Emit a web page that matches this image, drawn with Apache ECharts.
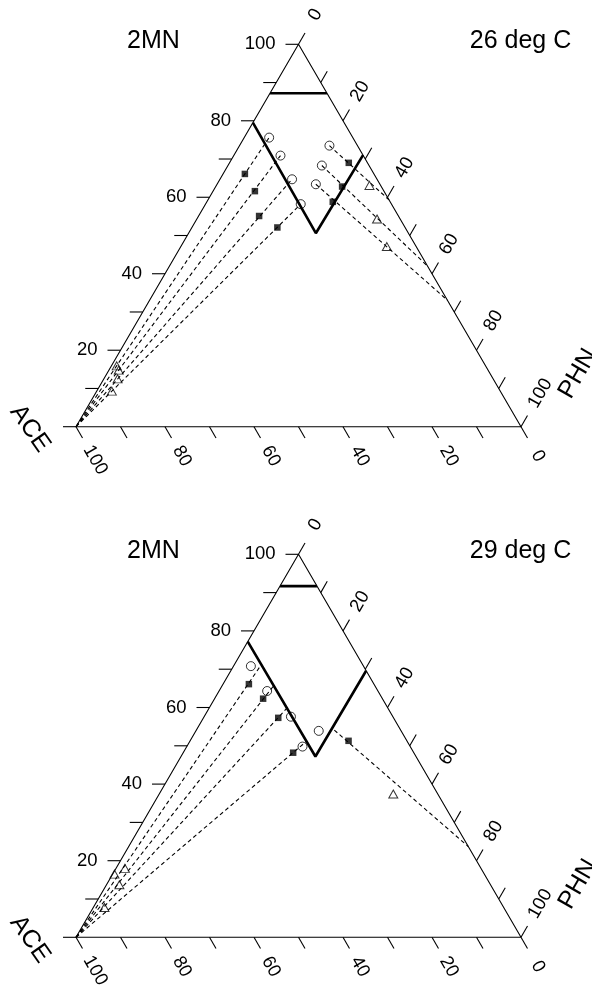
<!DOCTYPE html>
<html><head><meta charset="utf-8">
<script src="https://cdn.jsdelivr.net/npm/echarts@6/dist/echarts.min.js"></script>
<style>html,body{margin:0;padding:0;background:#fff}#c{width:592px;height:988px}</style>
</head><body><div id="c"></div>
<script>
// ---------- data: compositions as [2MN %, PHN %]  (ACE % = 100 - 2MN - PHN) ----------
const componentNames = ['2MN', 'PHN', 'ACE'];
const panelTitles = ['26 deg C', '29 deg C'];
const tickValues = [0, 10, 20, 30, 40, 50, 60, 70, 80, 90, 100];
const labels2MN = [20, 40, 60, 80, 100];
const labelsPHN = [0, 20, 40, 60, 80, 100];
const labelsACE = [0, 20, 40, 60, 80, 100];

// 26 deg C
const circles26   = [[75.6, 5.6], [70.9, 10.5], [64.7, 16.2], [58.2, 21.4], [73.5, 20.2], [68.3, 21.1], [63.4, 22.2]];
const squares26   = [[66.1, 4.9], [61.6, 9.4], [55.1, 13.6], [52.1, 19.2], [69.0, 26.8], [62.8, 28.4], [58.8, 28.3]];
const triangles26 = [[15.9, 1.2], [14.8, 2.2], [12.5, 3.1], [9.3, 3.4], [63.1, 34.4], [54.3, 40.5], [47.1, 46.3]];
const tieStart26  = [[0, 0], [0, 0], [0, 0], [0, 0], [73.5, 20.2], [68.3, 21.1], [63.4, 22.2]];
const tieEnd26    = [[75.6, 5.6], [70.9, 10.5], [64.7, 16.2], [58.2, 21.4], [59.3, 40.7], [42.0, 58.0], [33.1, 66.9]];
const capLine26   = [[87.2, 0], [87.2, 12.8]];
const veeLine26   = [[79.5, 0], [50.6, 28.6], [71.0, 29.0]];

// 29 deg C
const circles29   = [[70.8, 3.9], [64.3, 10.8], [57.6, 19.5], [49.8, 26.0], [53.9, 27.6]];
const squares29   = [[66.1, 5.8], [62.3, 10.9], [57.3, 16.8], [48.2, 24.7], [51.3, 35.6]];
const triangles29 = [[16.5, 0.4], [18.0, 2.0], [13.7, 2.9], [7.8, 2.5], [37.4, 52.6]];
const tieStart29  = [[0, 0], [0, 0], [0, 0], [0, 0], [54.1, 31.0]];
const tieEnd29    = [[70.6, 6.0], [65.8, 11.6], [59.9, 17.5], [51.2, 26.2], [23.7, 76.3]];
const capLine29   = [[91.7, 0], [91.7, 8.3]];
const veeLine29   = [[77.2, 0], [47.2, 30.2], [69.6, 30.4]];

// triangle vertices: ACE corner, 2MN apex, PHN corner
const vertices = [[0, 0], [100, 0], [0, 100]];

// ---------- layout ----------
const layout = [
  { left: 76, top: 44.3, width: 445, height: 382.4 },
  { left: 76, top: 554.3, width: 445, height: 383 }
];
const FONT = '"Liberation Sans", Arial, Helvetica, sans-serif';
const TICK = 13;

const panels = [
  { circles: circles26, squares: squares26, triangles: triangles26, tieStart: tieStart26, tieEnd: tieEnd26, cap: capLine26, vee: veeLine26 },
  { circles: circles29, squares: squares29, triangles: triangles29, tieStart: tieStart29, tieEnd: tieEnd29, cap: capLine29, vee: veeLine29 }
];

// ternary -> cartesian (X along bottom, Y = height)
const toXY = c => [c[1] + c[0] / 2, c[0]];

const dirs = { '2MN': [-1, 0], 'PHN': [0.5, -0.8660254], 'ACE': [0.5, 0.8660254] };
const ticks = [];
tickValues.forEach(v => {
  ticks.push({ comp: [v, 0], axis: '2MN', label: labels2MN.includes(v) ? String(v) : '' });
  ticks.push({ comp: [100 - v, v], axis: 'PHN', label: labelsPHN.includes(v) ? String(v) : '' });
  ticks.push({ comp: [0, 100 - v], axis: 'ACE', label: labelsACE.includes(v) ? String(v) : '' });
});

function textEl(x, y, text, size, rot, align) {
  return {
    type: 'text', x: x, y: y, rotation: rot || 0,
    style: { text: text, fill: '#000', fontSize: size, fontFamily: FONT,
      align: align || 'center', verticalAlign: 'middle',
      textAlign: align || 'center', textVerticalAlign: 'middle' }
  };
}

const series = [];
panels.forEach((pn, i) => {
  const ax = { xAxisIndex: i, yAxisIndex: i };
  // outline
  series.push(Object.assign({ type: 'line', data: [vertices[0], vertices[1], vertices[2], vertices[0]].map(toXY),
    symbol: 'none', clip: false, silent: true, lineStyle: { color: '#000', width: 1.1 }, z: 2 }, ax));
  // phase boundaries
  [pn.cap, pn.vee].forEach(b => series.push(Object.assign({ type: 'line', data: b.map(toXY), symbol: 'none', clip: false,
    silent: true, lineStyle: { color: '#000', width: 2.6 }, z: 3 }, ax)));
  // tie lines
  pn.tieStart.forEach((s, k) => series.push(Object.assign({ type: 'line', data: [toXY(s), toXY(pn.tieEnd[k])],
    symbol: 'none', clip: false, silent: true, lineStyle: { color: '#000', width: 1.1, type: [4, 3] }, z: 2 }, ax)));
  // markers
  series.push(Object.assign({ type: 'scatter', data: pn.circles.map(toXY), symbol: 'circle', symbolSize: 9, clip: false,
    itemStyle: { color: 'rgba(0,0,0,0)', borderColor: '#000', borderWidth: 1 }, z: 5 }, ax));
  series.push(Object.assign({ type: 'scatter', data: pn.squares.map(toXY), symbol: 'rect', symbolSize: 6.5, clip: false,
    itemStyle: { color: '#000' }, z: 5 }, ax));
  series.push(Object.assign({ type: 'scatter', data: pn.triangles.map(toXY), symbol: 'triangle', symbolSize: [9, 8], clip: false,
    itemStyle: { color: 'rgba(0,0,0,0)', borderColor: '#000', borderWidth: 1 }, z: 5 }, ax));
  // ticks & tick labels
  series.push(Object.assign({ type: 'custom', clip: false, silent: true, z: 4,
    data: ticks.map(t => toXY(t.comp)),
    renderItem: (params, api) => {
      const t = ticks[params.dataIndex];
      const p = api.coord([api.value(0), api.value(1)]);
      const d = dirs[t.axis];
      const ch = [{ type: 'line', shape: { x1: p[0], y1: p[1], x2: p[0] + d[0] * TICK, y2: p[1] + d[1] * TICK },
        style: { stroke: '#000', lineWidth: 1.1 } }];
      if (t.label) {
        if (t.axis === '2MN') ch.push(textEl(p[0] - 23, p[1], t.label, 18.5, 0, 'right'));
        else {
          const dist = 34 + Math.max(0, t.label.length - 2) * 4.5;
          ch.push(textEl(p[0] + d[0] * dist, p[1] + d[1] * dist, t.label, 18.5,
            t.axis === 'PHN' ? Math.PI / 3 : -Math.PI / 3));
        }
      }
      return { type: 'group', children: ch };
    } }, ax));
  // component names and panel title, placed from the triangle vertices
  const nameItems = [
    { v: vertices[1], text: componentNames[0], dx: -145, dy: -3, rot: 0 },
    { v: vertices[1], text: panelTitles[i], dx: 222, dy: -3, rot: 0 },
    { v: vertices[2], text: componentNames[1], dx: 57, dy: -53, rot: Math.PI / 3 },
    { v: vertices[0], text: componentNames[2], dx: -46, dy: 2, rot: -Math.PI * 55 / 180 }
  ];
  series.push(Object.assign({ type: 'custom', clip: false, silent: true, z: 4,
    data: nameItems.map(n => toXY(n.v)),
    renderItem: (params, api) => {
      const n = nameItems[params.dataIndex];
      const p = api.coord([api.value(0), api.value(1)]);
      return textEl(p[0] + n.dx, p[1] + n.dy, n.text, 25, n.rot);
    } }, ax));
});

const chart = echarts.init(document.getElementById('c'), null, { renderer: 'canvas' });
chart.setOption({
  animation: false,
  backgroundColor: '#fff',
  grid: layout.map(g => ({ left: g.left, top: g.top, width: g.width, height: g.height, show: false })),
  xAxis: layout.map((g, i) => ({ type: 'value', gridIndex: i, min: 0, max: 100, show: false })),
  yAxis: layout.map((g, i) => ({ type: 'value', gridIndex: i, min: 0, max: 100, show: false })),
  series: series
});
</script></body></html>
